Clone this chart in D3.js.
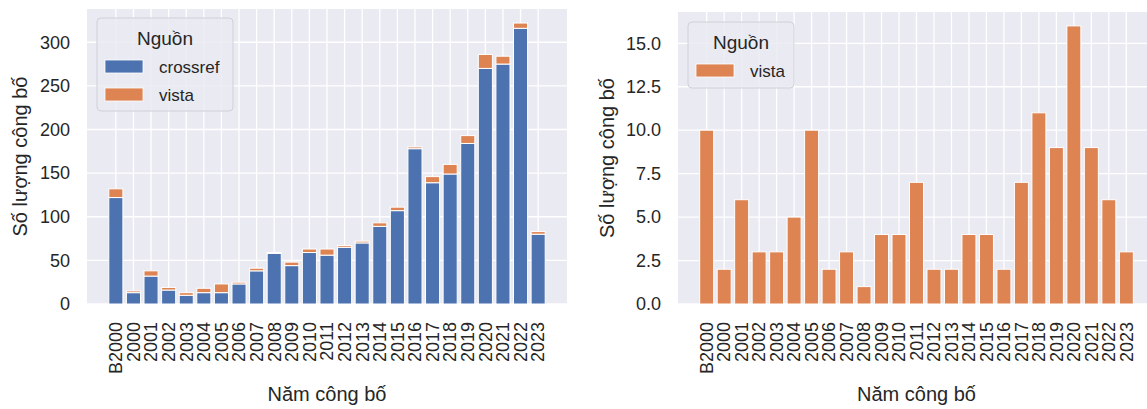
<!DOCTYPE html>
<html>
<head>
<meta charset="utf-8">
<script src="https://cdn.jsdelivr.net/npm/d3@7"></script>
<style>
  html, body { margin: 0; padding: 0; background: #fff; }
  svg { display: block; font-family: "Liberation Sans", Arial, sans-serif; }
</style>
</head>
<body>
<svg id="chart" width="1147" height="409"></svg>
<script>
"use strict";

// categories on the x axis
const years = [ 'B2000', '2000', '2001', '2002', '2003', '2004', '2005', '2006', '2007', '2008',
                '2009', '2010', '2011', '2012', '2013', '2014', '2015', '2016', '2017', '2018',
                '2019', '2020', '2021', '2022', '2023' ];

// publications per source
const crossref = [ 122, 13, 32, 16, 10, 13, 13, 23, 38, 58,
                   44, 59, 56, 65, 70, 89, 107, 178, 139, 149,
                   184, 270, 275, 316, 80 ];
const vista    = [ 10, 2, 6, 3, 3, 5, 10, 2, 3, 1,
                   4, 4, 7, 2, 2, 4, 4, 2, 7, 11,
                   9, 16, 9, 6, 3 ];

const leftTicks  = [ 0, 50, 100, 150, 200, 250, 300 ];
const rightTicks = [ 0, 2.5, 5, 7.5, 10, 12.5, 15 ];

const colors = { crossref: '#4C72B0', vista: '#DD8452' };
const bg = '#EAEAF2', textColor = '#262626';

const svg = d3.select('#chart');

// one panel with background, grid, ticks and labels
function panel( box, yMax, ticks, fmt ) {

  const x = d3.scaleBand()
              .domain( years )
              .range( [ box.left, box.right ] )
              .paddingInner( 0.2 )
              .paddingOuter( 1.24 );
  const y = d3.scaleLinear()
              .domain( [ 0, yMax ] )
              .range( [ box.bottom, box.top ] );

  const g = svg.append('g');

  g.append('rect')
    .attr('x', box.left).attr('y', box.top)
    .attr('width', box.right - box.left).attr('height', box.bottom - box.top)
    .attr('fill', bg);

  // grid
  g.selectAll('line.h').data( ticks ).enter().append('line')
    .attr('x1', box.left).attr('x2', box.right)
    .attr('y1', (d) => y(d)).attr('y2', (d) => y(d))
    .attr('stroke', '#fff').attr('stroke-width', 1.3);
  g.selectAll('line.v').data( years ).enter().append('line')
    .attr('x1', (d) => x(d) + x.bandwidth() / 2).attr('x2', (d) => x(d) + x.bandwidth() / 2)
    .attr('y1', box.top).attr('y2', box.bottom)
    .attr('stroke', '#fff').attr('stroke-width', 1.3);

  // y tick labels
  g.selectAll('text.yt').data( ticks ).enter().append('text')
    .attr('x', box.left - 17).attr('y', (d) => y(d))
    .attr('dy', '0.35em')
    .attr('text-anchor', 'end')
    .attr('font-size', 18).attr('fill', textColor)
    .text( fmt );

  // x tick labels, rotated
  g.selectAll('text.xt').data( years ).enter().append('text')
    .attr('transform', (d) => `translate(${x(d) + x.bandwidth() / 2},${box.bottom + 18}) rotate(-90)`)
    .attr('dy', '0.35em')
    .attr('text-anchor', 'end')
    .attr('font-size', 18).attr('fill', textColor)
    .text( (d) => d );

  // axis labels
  g.append('text')
    .attr('transform', `translate(${box.yLabelX},${(box.top + box.bottom) / 2}) rotate(-90)`)
    .attr('dy', '0.35em')
    .attr('text-anchor', 'middle')
    .attr('font-size', 20).attr('fill', textColor)
    .text('Số lượng công bố');
  g.append('text')
    .attr('x', (box.left + box.right) / 2).attr('y', 401)
    .attr('text-anchor', 'middle')
    .attr('font-size', 20).attr('fill', textColor)
    .text('Năm công bố');

  return { x, y, g };
}

function legend( g, lx, ly, w, h, entries ) {
  g.append('rect')
    .attr('x', lx).attr('y', ly).attr('width', w).attr('height', h)
    .attr('rx', 4)
    .attr('fill', bg).attr('fill-opacity', 0.85)
    .attr('stroke', '#d0d0d8');
  g.append('text')
    .attr('x', lx + w / 2).attr('y', ly + 27)
    .attr('text-anchor', 'middle')
    .attr('font-size', 19).attr('fill', textColor)
    .text('Nguồn');
  entries.forEach( (e, i) => {
    g.append('rect')
      .attr('x', lx + 8).attr('y', ly + 42 + i * 28)
      .attr('width', 38).attr('height', 13)
      .attr('fill', colors[e]).attr('stroke', '#fff').attr('stroke-width', 0.8);
    g.append('text')
      .attr('x', lx + 62).attr('y', ly + 55 + i * 28)
      .attr('font-size', 17).attr('fill', textColor)
      .text( e );
  });
}

// left: stacked crossref + vista
const totals = crossref.map( (c, i) => c + vista[i] );
const L = panel( { left: 87, right: 567, top: 9, bottom: 304, yLabelX: 20 },
                 d3.max( totals ) * 1.05, leftTicks, (d) => d );

const stack = d3.stack().keys( [ 'crossref', 'vista' ] )(
  years.map( (yr, i) => ({ year: yr, crossref: crossref[i], vista: vista[i] }) ) );

L.g.selectAll('g.layer').data( stack ).enter().append('g')
    .attr('fill', (d) => colors[ d.key ])
  .selectAll('rect').data( (d) => d ).enter().append('rect')
    .attr('x', (d) => L.x( d.data.year ))
    .attr('width', L.x.bandwidth())
    .attr('y', (d) => L.y( d[1] ))
    .attr('height', (d) => L.y( d[0] ) - L.y( d[1] ))
    .attr('stroke', '#fff').attr('stroke-width', 1);

legend( L.g, 97, 18, 136, 93, [ 'crossref', 'vista' ] );

// right: vista only
const R = panel( { left: 678, right: 1155, top: 12, bottom: 304, yLabelX: 607 },
                 d3.max( vista ) * 1.05, rightTicks, d3.format('.1f') );

R.g.selectAll('rect.bar').data( years ).enter().append('rect')
    .attr('x', (d) => R.x( d ))
    .attr('width', R.x.bandwidth())
    .attr('y', (d, i) => R.y( vista[i] ))
    .attr('height', (d, i) => R.y( 0 ) - R.y( vista[i] ))
    .attr('fill', colors.vista)
    .attr('stroke', '#fff').attr('stroke-width', 1);

legend( R.g, 688, 22, 106, 66, [ 'vista' ] );
</script>
</body>
</html>
